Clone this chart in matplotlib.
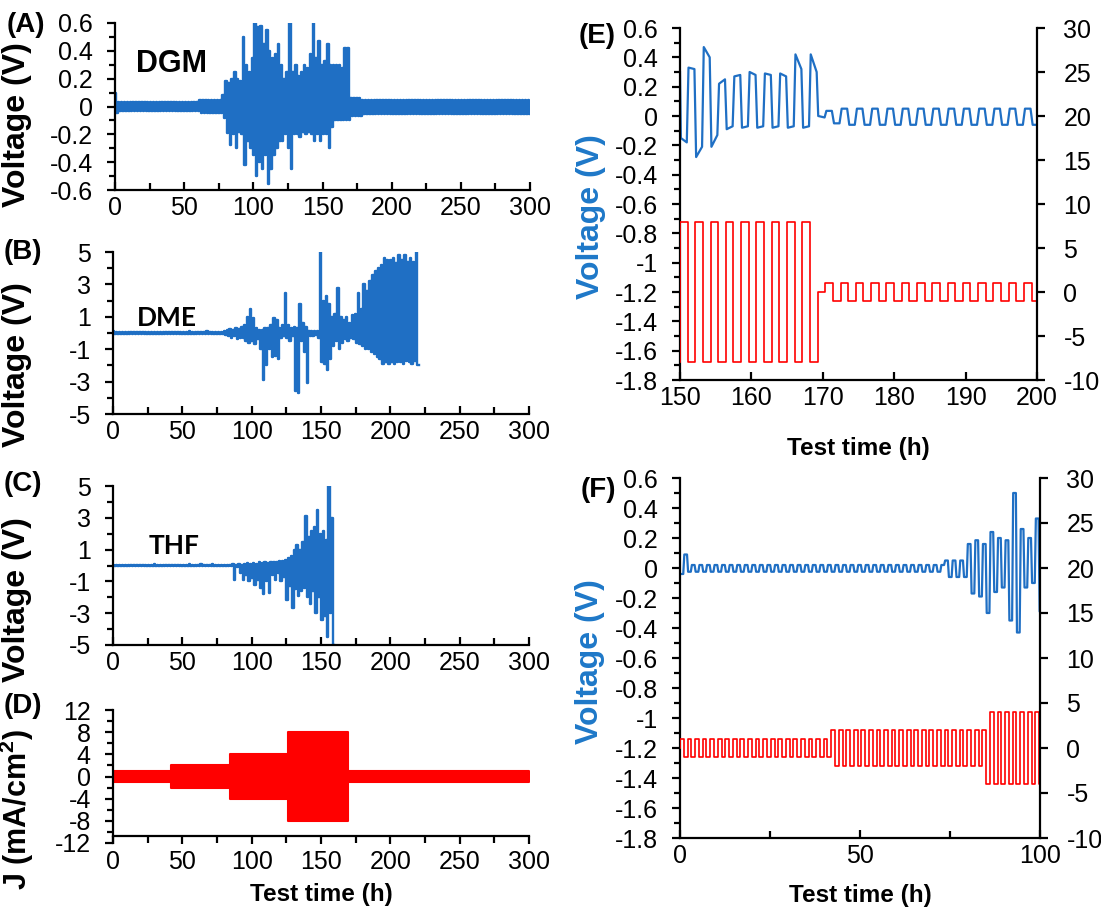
import numpy as np
import matplotlib
matplotlib.use("Agg")
import matplotlib.pyplot as plt
from matplotlib.ticker import FixedLocator, MultipleLocator, FuncFormatter

plt.rcParams['font.family'] = ['Liberation Sans', 'DejaVu Sans']
plt.rcParams['axes.unicode_minus'] = False
plt.rcParams['mathtext.fontset'] = 'custom'
plt.rcParams['mathtext.bf'] = 'Liberation Sans:bold'
plt.rcParams['mathtext.rm'] = 'Liberation Sans'

W, H = 1101, 911
BLUE = '#1f6fc4'
LABEL_BLUE = '#1e78c8'
RED = '#ff0000'

CYCLE = 2.1      # h per strip/plate cycle (panels A-C, F)
E_HALF = 1.07    # h per half cycle in panel E

# ---------------- (A) DGM: voltage extremes per cycle (V) ----------------
dgm_hi_active = [0.08, 0.18, 0.17, 0.20, 0.25, 0.20, 0.18, 0.50, 0.30, 0.25,
                 0.35, 0.60, 0.57, 0.58, 0.45, 0.55, 0.40, 0.35, 0.38, 0.45,
                 0.30, 0.20, 0.25, 0.60, 0.25, 0.30, 0.22, 0.25, 0.30, 0.28,
                 0.38, 0.60, 0.35, 0.47, 0.30, 0.33, 0.45, 0.30, 0.30, 0.30,
                 0.30, 0.28, 0.42, 0.42]
dgm_lo_active = [-0.08, -0.19, -0.28, -0.20, -0.30, -0.18, -0.20, -0.42, -0.25, -0.30,
                 -0.35, -0.50, -0.40, -0.45, -0.35, -0.56, -0.45, -0.35, -0.30, -0.25,
                 -0.25, -0.20, -0.30, -0.45, -0.20, -0.20, -0.22, -0.18, -0.20, -0.18,
                 -0.20, -0.25, -0.20, -0.25, -0.20, -0.20, -0.30, -0.15, -0.10, -0.10,
                 -0.10, -0.10, -0.10, -0.10]
dgm_hi = [0.10] + [0.03] * 28 + [0.045] * 8 + dgm_hi_active + [0.06] * 4 + [0.05] * 58
dgm_lo = [-0.05] + [-0.03] * 28 + [-0.045] * 8 + dgm_lo_active + [-0.07] * 4 + [-0.055] * 58

# ---------------- (B) DME ----------------
dme_hi_active = [0.15, 0.2, 0.25, 0.2, 0.3, 0.25, 0.4, 0.5, 1.0, 1.5,
                 0.9, 0.3, 0.2, 0.2, 0.3, 0.3, 0.5, 0.9, 0.8, 0.3,
                 0.5, 2.5, 0.5, 0.3, 0.4, 0.3, 1.8, 0.6, 0.4, 0.1,
                 0.15, 0.1, 0.15, 5.0, 2.0, 2.3, 1.8, 1.0, 1.2, 2.8,
                 1.0, 0.8, 1.0, 0.6, 1.1, 1.2, 2.5, 1.5, 3.0, 2.6,
                 3.2, 3.6, 3.8, 4.0, 4.2, 4.6, 4.5, 4.5, 4.6, 4.3,
                 4.8, 4.5, 4.8, 4.4, 4.6, 4.4, 5.0]
dme_lo_active = [-0.15, -0.2, -0.3, -0.2, -0.4, -0.3, -0.3, -0.5, -0.6, -0.5,
                 -0.7, -0.4, -1.0, -2.9, -2.0, -1.0, -1.5, -1.4, -1.6, -0.3,
                 -0.2, -0.3, -0.5, -0.2, -3.6, -3.7, -0.5, -1.2, -3.1, -0.2,
                 -0.2, -0.1, -0.3, -1.8, -1.9, -2.3, -1.6, -0.8, -0.5, -1.0,
                 -0.6, -0.4, -0.5, -0.3, -0.4, -0.6, -0.7, -0.8, -1.0, -1.0,
                 -1.2, -1.3, -1.5, -1.6, -1.9, -1.8, -1.9, -1.8, -1.9, -1.8,
                 -1.8, -1.9, -1.7, -1.8, -1.9, -1.7, -2.0]
dme_hi = [0.1] + [0.04] * 25 + [0.15] + [0.04] * 5 + [0.15] + [0.04] * 5 + dme_hi_active
dme_lo = [-0.05] + [-0.04] * 37 + dme_lo_active

# ---------------- (C) THF ----------------
thf_hi_active = [0.05, 0.1, 0.05, 0.1, 0.05, 0.1, 0.15, 0.1, 0.15, 0.1,
                 0.2, 0.15, 0.2, 0.15, 0.2, 0.2, 0.25, 0.3, 0.3, 0.35,
                 0.5, 0.6, 1.0, 1.3, 1.0, 1.5, 3.1, 1.8, 2.2, 2.4,
                 3.5, 2.0, 2.2, 1.6, 5.0, 3.0]
thf_lo_active = [-0.05, -0.9, -0.1, -0.5, -0.9, -0.6, -1.0, -0.8, -1.2, -0.9,
                 -1.4, -1.8, -1.0, -1.7, -0.6, -0.9, -0.5, -1.0, -0.7, -2.2,
                 -1.3, -2.7, -1.5, -1.9, -1.6, -1.4, -2.0, -2.4, -1.6, -3.0,
                 -2.0, -3.4, -3.2, -4.5, -3.0, -5.0]
thf_hi = ([0.03] * 14 + [0.12] + [0.03] * 11 + [0.12] + [0.03] * 3 + [0.12]
          + [0.03] * 3 + [0.12] + [0.03] * 5 + thf_hi_active)
thf_lo = [-0.03] * 40 + thf_lo_active

# ---------------- (D) current density protocol (mA/cm2) ----------------
j_start = [0, 42, 84.5, 126.5, 169.5]
j_end = [42, 84.5, 126.5, 169.5, 300]
j_amp = [1, 2, 4, 8, 1]

# ---------------- (E) 150-200 h detail ----------------
e_red_amp = [8, 1]
e_red_halves = [18, 28]
e_red_start = [150.0, 170.35]
e_blue_first = 0.30
e_blue_start = [-0.15, 0.33, -0.28, 0.47, -0.21, 0.22, -0.09, 0.27, -0.08, 0.30,
                -0.08, 0.29, -0.08, 0.29, -0.08, 0.42, -0.08, 0.42]
e_blue_end = [-0.18, 0.32, -0.21, 0.40, -0.13, 0.25, -0.07, 0.28, -0.07, 0.28,
              -0.07, 0.28, -0.07, 0.27, -0.07, 0.32, -0.07, 0.30]
e_blue_late = [0.035, -0.05] + [0.05, -0.06] * 13

# ---------------- (F) 0-100 h detail ----------------
f_red_amp = [1, 2, 4]
f_red_halves = [40, 41, 15]
f_blue = ([-0.04, 0.09] + [-0.025, 0.02] * 34 + [0.05, -0.06] * 3
          + [0.16, -0.17, 0.185, -0.19, 0.16, -0.30, 0.24, -0.16, 0.20, -0.13,
             0.185, -0.35, 0.50, -0.43, 0.26, -0.13, 0.20, -0.10, 0.33, -0.29])


def interleave(hi, lo):
    out = []
    for h, l in zip(hi, lo):
        out += [h, l]
    return out


def plateaus(t0, half, v_start, v_end=None, ramp=0.0):
    xs, ys = [], []
    for i, v in enumerate(v_start):
        a = t0 + i * half
        b = a + half
        ve = v if v_end is None else v_end[i]
        xs += [a + ramp, b - ramp]
        ys += [v, ve]
    return np.array(xs), np.array(ys)


def square(t0, half, amps, counts, first_sign=1):
    xs, ys = [], []
    t = t0
    sign = first_sign
    for a, n in zip(amps, counts):
        for _ in range(n):
            xs += [t, t + half]
            ys += [sign * a, sign * a]
            t += half
            sign = -sign
    return xs, ys


def gfmt(v, pos):
    v = round(v, 6)
    if v == 0:
        v = 0.0
    return f'{v:g}'


fig = plt.figure(figsize=(W / 100, H / 100), dpi=100)


def px_axes(left, right, top, bottom):
    return fig.add_axes([left / W, 1 - bottom / H, (right - left) / W, (bottom - top) / H])


def style(ax, xdir='in'):
    ax.spines['top'].set_visible(False)
    ax.spines['right'].set_visible(False)
    for s in ['left', 'bottom']:
        ax.spines[s].set_linewidth(1.6)
    ax.tick_params(which='both', width=1.6, labelsize=18, colors='black')
    ax.tick_params(axis='y', which='major', direction='out', length=6, pad=10)
    ax.tick_params(axis='y', which='minor', direction='out', length=4)
    ax.tick_params(axis='x', which='major', direction=xdir, length=6, pad=4)
    ax.tick_params(axis='x', which='minor', direction=xdir, length=5)
    ax.yaxis.set_major_formatter(FuncFormatter(gfmt))
    ax.xaxis.set_major_formatter(FuncFormatter(gfmt))


def time_axis_300(ax):
    ax.set_xlim(0, 300)
    ax.xaxis.set_major_locator(MultipleLocator(50))
    ax.xaxis.set_minor_locator(MultipleLocator(25))


def right_axis(ax):
    ax2 = ax.twinx()
    for s in ['left', 'top', 'bottom']:
        ax2.spines[s].set_visible(False)
    ax2.spines['right'].set_linewidth(1.6)
    ax2.tick_params(axis='y', direction='out', width=1.6, length=6, labelsize=18, pad=13)
    ax2.yaxis.set_major_formatter(FuncFormatter(gfmt))
    ax2.set_ylim(-10, 30)
    ax2.yaxis.set_major_locator(MultipleLocator(5))
    return ax2


LW_DENSE = 1.7

# ---- (A)
axA = px_axes(115, 530, 23, 190)
style(axA)
time_axis_300(axA)
x, y = plateaus(0, CYCLE / 2, interleave(dgm_hi, dgm_lo))
axA.plot(x, y, color=BLUE, lw=LW_DENSE)
axA.set_ylim(-0.6, 0.6)
axA.yaxis.set_major_locator(FixedLocator(np.round(np.arange(-0.6, 0.61, 0.2), 1)))
axA.yaxis.set_minor_locator(MultipleLocator(0.1))
axA.text(15.5, 0.25, 'DGM', fontsize=22, fontweight='bold', ha='left', va='baseline')

# ---- (B)
axB = px_axes(113, 529, 252, 414)
style(axB)
time_axis_300(axB)
x, y = plateaus(0, CYCLE / 2, interleave(dme_hi, dme_lo))
axB.plot(x, y, color=BLUE, lw=LW_DENSE)
axB.set_ylim(-5, 5)
axB.yaxis.set_major_locator(FixedLocator([-5, -3, -1, 1, 3, 5]))
axB.yaxis.set_minor_locator(MultipleLocator(1))
axB.text(17.5, 0.45, 'DME', fontsize=19, fontweight='bold', family='Lato',
         ha='left', va='baseline')

# ---- (C)
axC = px_axes(113, 529, 486, 645)
style(axC)
time_axis_300(axC)
x, y = plateaus(0, CYCLE / 2, interleave(thf_hi, thf_lo))
axC.plot(x, y, color=BLUE, lw=LW_DENSE)
axC.set_ylim(-5, 5)
axC.yaxis.set_major_locator(FixedLocator([-5, -3, -1, 1, 3, 5]))
axC.yaxis.set_minor_locator(MultipleLocator(1))
axC.text(25.5, 0.73, 'THF', fontsize=19, fontweight='bold', family='Lato',
         ha='left', va='baseline')

# ---- (D)
axD = px_axes(113, 529, 710, 843)
style(axD, xdir='out')
time_axis_300(axD)
dx, dy = [], []
for s, e, a in zip(j_start, j_end, j_amp):
    dx += [s, e]
    dy += [a, a]
dy = np.array(dy, dtype=float)
axD.fill_between(dx, -dy, dy, color=RED, lw=1.5, edgecolor=RED)
axD.set_ylim(-12, 12)
axD.spines['bottom'].set_position(('data', -10.8))
axD.yaxis.set_major_locator(FixedLocator([-12, -8, -4, 0, 4, 8, 12]))
axD.yaxis.set_minor_locator(MultipleLocator(2))
axD.set_xlabel('Test time (h)', fontsize=17.5, fontweight='bold', labelpad=6)

# ---- (E)
axE = px_axes(680, 1037, 28, 380)
style(axE)
axE.set_xlim(150, 200)
axE.xaxis.set_major_locator(MultipleLocator(10))
axE.set_ylim(-1.8, 0.6)
axE.yaxis.set_major_locator(FixedLocator(np.round(np.arange(-1.8, 0.61, 0.2), 1)))
axE.yaxis.set_minor_locator(MultipleLocator(0.1))
bx, by = plateaus(e_red_start[0], E_HALF, e_blue_start, e_blue_end, ramp=0.12)
end1 = e_red_start[0] + E_HALF * len(e_blue_start)
lx, ly = plateaus(e_red_start[1], E_HALF, e_blue_late, ramp=0.15)
ex = np.concatenate([[150.0], bx, [end1 + 0.1, e_red_start[1] - 0.1], lx])
ey = np.concatenate([[e_blue_first], by, [0.0, -0.01], ly])
axE.plot(ex, ey, color=BLUE, lw=1.6, solid_joinstyle='round')
axE.set_xlabel('Test time (h)', fontsize=17.5, fontweight='bold', labelpad=20)

axE2 = right_axis(axE)
rx1, ry1 = square(e_red_start[0], E_HALF, [e_red_amp[0]], [e_red_halves[0]])
rx2, ry2 = square(e_red_start[1], E_HALF, [e_red_amp[1]], [e_red_halves[1]])
rx = [150.0] + rx1 + [rx1[-1], e_red_start[1]] + rx2
ry = [-e_red_amp[0]] + ry1 + [0.0, 0.0] + ry2
axE2.plot(rx, ry, color=RED, lw=1.2)

# ---- (F)
axF = px_axes(680, 1040, 478, 838)
style(axF)
axF.set_xlim(0, 100)
axF.xaxis.set_major_locator(MultipleLocator(50))
axF.xaxis.set_minor_locator(MultipleLocator(25))
axF.set_ylim(-1.8, 0.6)
axF.yaxis.set_major_locator(FixedLocator(np.round(np.arange(-1.8, 0.61, 0.2), 1)))
axF.yaxis.set_minor_locator(MultipleLocator(0.1))
fx, fy = plateaus(0, CYCLE / 2, f_blue, ramp=0.15)
axF.plot(fx, fy, color=BLUE, lw=1.6, solid_joinstyle='round')
axF.set_xlabel('Test time (h)', fontsize=17.5, fontweight='bold', labelpad=12)

axF2 = right_axis(axF)
sx, sy = square(0, CYCLE / 2, f_red_amp, f_red_halves)
axF2.plot([0.0] + sx, [0.0] + sy, color=RED, lw=1.2)

# ---- panel letters and axis titles
letters = [('(A)', 45, 25), ('(B)', 42, 252), ('(C)', 42, 484), ('(D)', 42, 706),
           ('(E)', 616, 36), ('(F)', 616, 490)]
for s, px, py in letters:
    fig.text(px / W, 1 - py / H, s, fontsize=20, fontweight='bold',
             ha='right', va='center')

ylabels = [('Voltage (V)', 17, 125, 'black', 23), ('Voltage (V)', 17, 365, 'black', 23),
           ('Voltage (V)', 17, 600, 'black', 23),
           (r'J (mA/cm$\mathbf{^{2}}$)', 17, 810, 'black', 22),
           ('Voltage (V)', 591, 217, LABEL_BLUE, 23), ('Voltage (V)', 590, 662, LABEL_BLUE, 23)]
for s, px, py, c, fs in ylabels:
    fig.text(px / W, 1 - py / H, s, fontsize=fs, fontweight='bold', color=c,
             rotation=90, ha='center', va='center')

fig.savefig('out.png', dpi=100)
